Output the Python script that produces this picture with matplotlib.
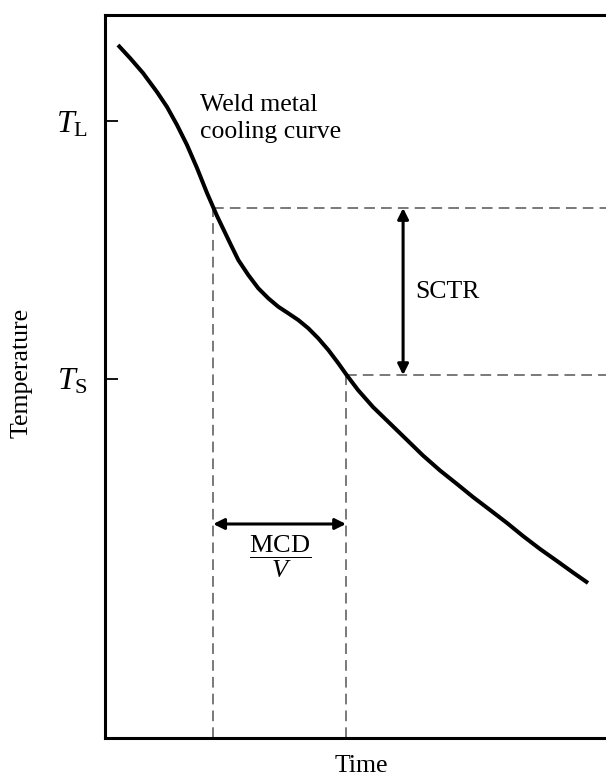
import matplotlib
matplotlib.use("Agg")
import matplotlib.pyplot as plt

plt.rcParams['font.family'] = ['Liberation Serif', 'DejaVu Serif']
plt.rcParams['mathtext.fontset'] = 'custom'
plt.rcParams['mathtext.rm'] = 'Liberation Serif'
plt.rcParams['mathtext.it'] = 'Liberation Serif:italic'

# Weld metal cooling curve (arbitrary units)
time = [2.59, 4.99, 7.58, 10.38, 12.38, 14.37, 16.37, 18.36, 20.36, 22.36,
        24.95, 26.61, 28.60, 30.60, 32.59, 34.59, 36.59, 38.58, 40.58, 42.57,
        44.57, 46.57, 48.23, 50.50, 53.49, 56.89, 60.28, 63.47, 66.87, 70.26,
        73.45, 76.85, 80.24, 83.43, 86.83, 90.22, 93.41, 96.41]
temperature = [95.85, 94.05, 91.98, 89.35, 87.28, 84.79, 82.02, 78.84, 75.38, 72.20,
               68.46, 66.11, 64.04, 62.20, 60.82, 59.65, 58.74, 57.81, 56.67, 55.28,
               53.67, 51.83, 50.21, 48.13, 45.78, 43.50, 41.22, 39.07, 37.00, 35.13,
               33.33, 31.54, 29.74, 27.94, 26.14, 24.48, 22.89, 21.44]

tick_values = [85.3, 49.7]
tick_labels = [r'$T_{\mathrm{L}}$', r'$T_{\mathrm{S}}$']

sctr_top = 73.3      # temperature at start of solidification range
sctr_bottom = 50.2   # temperature at end
t_start = 21.6       # time at start
t_end = 48.1         # time at end
sctr_x = 59.5        # time where SCTR arrow sits
mcd_y = 29.6         # temperature where MCD/V arrow sits

fig = plt.figure(figsize=(6.06, 7.81), dpi=100)
ax = fig.add_axes([105/606, 43/781, 501/606, 723/781])
ax.set_xlim(0, 100)
ax.set_ylim(0, 100)

for s in ['left', 'bottom', 'top']:
    ax.spines[s].set_linewidth(2.2)
ax.spines['right'].set_visible(False)

ax.plot(time, temperature, color='black', lw=2.9, solid_capstyle='butt',
        solid_joinstyle='round', zorder=3)

dash = dict(color='#555555', lw=1.1, dashes=(7, 4), zorder=2)
ax.plot([t_start, 100], [sctr_top, sctr_top], **dash)
ax.plot([t_end, 100], [sctr_bottom, sctr_bottom], **dash)
ax.plot([t_start, t_start], [0, sctr_top], **dash)
ax.plot([t_end, t_end], [0, sctr_bottom], **dash)

arrow = dict(arrowstyle='<|-|>', color='black', lw=2.2, mutation_scale=16,
             shrinkA=0, shrinkB=0)
ax.annotate('', xy=(sctr_x, sctr_top), xytext=(sctr_x, sctr_bottom), arrowprops=arrow)
ax.annotate('', xy=(t_start, mcd_y), xytext=(t_end, mcd_y), arrowprops=arrow)

ax.text(62.0, 61.7, 'SCTR', fontsize=18.5, ha='left', va='center')
ax.text((t_start + t_end) / 2, 25.0, r'$\dfrac{\mathrm{MCD}}{V}$', fontsize=19,
        ha='center', va='center')
ax.text(19.0, 85.7, 'Weld metal\ncooling curve', fontsize=18.5, ha='left', va='center',
        linespacing=1.3)

ax.set_xticks([])
ax.set_yticks(tick_values)
ax.set_yticklabels(tick_labels, fontsize=23)
ax.tick_params(axis='y', direction='in', length=9, width=1.3, pad=12)

ax.set_xlabel('Time', fontsize=18.5)
ax.xaxis.set_label_coords(0.511, -0.024)
ax.set_ylabel('Temperature', fontsize=18.5)
ax.yaxis.set_label_coords(-0.144, 0.505)

fig.savefig('out.png', dpi=100)
